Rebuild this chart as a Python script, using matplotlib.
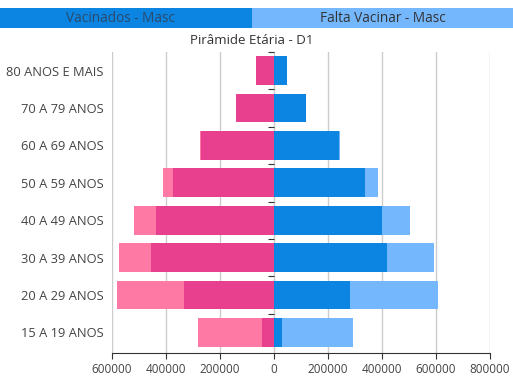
import numpy as np
import matplotlib
matplotlib.use("Agg")
import matplotlib.pyplot as plt
from matplotlib.ticker import FuncFormatter

# ------------------ Data ------------------

faixas = ["80 ANOS E MAIS", "70 A 79 ANOS", "60 A 69 ANOS", "50 A 59 ANOS",
          "40 A 49 ANOS", "30 A 39 ANOS", "20 A 29 ANOS", "15 A 19 ANOS"]

# lado esquerdo (rosa)
vac_esq = [65500, 139600, 270000, 374000, 437000, 456700, 333000, 43000]
falta_esq = [0, 0, 5000, 36000, 80000, 117300, 247000, 239600]

# lado direito (azul) - Masc
vac_masc = [47000, 118500, 240000, 337000, 400000, 418500, 281500, 31000]
falta_masc = [0, 0, 4000, 48000, 105000, 174100, 327100, 261600]

xticks = [-600000, -400000, -200000, 0, 200000, 400000, 600000, 800000]

# ------------------ Styles ------------------

c_blue = "#0b84e2"
c_lblue = "#74b7fd"
c_pink = "#e8408f"
c_lpink = "#ff79a5"
txt_color = "#444444"

plt.rcParams['font.family'] = ['Open Sans', 'DejaVu Sans']

fig = plt.figure(figsize=(5.13, 3.84), dpi=100)
ax = fig.add_axes([112 / 513, 1 - 353 / 384, 378 / 513, 301 / 384])

y = np.arange(len(faixas))
h = 0.77
ve = np.array(vac_esq)
vm = np.array(vac_masc)

ax.barh(y, -ve, height=h, color=c_pink, zorder=3)
ax.barh(y, -np.array(falta_esq), left=-ve, height=h, color=c_lpink, zorder=3)
ax.barh(y, vm, height=h, color=c_blue, zorder=3)
ax.barh(y, falta_masc, left=vm, height=h, color=c_lblue, zorder=3)

ax.set_xlim(-600000, 800000)
ax.set_ylim(len(faixas) - 0.5 + 0.05, -0.5)
ax.set_yticks(y)
ax.set_yticklabels(faixas, fontsize=9.3, color=txt_color)
ax.tick_params(axis='y', length=0, pad=6)

ax.set_xticks(xticks)
ax.xaxis.set_major_formatter(FuncFormatter(lambda v, p: "{:d}".format(int(abs(v)))))
ax.tick_params(axis='x', labelsize=8.5, labelcolor=txt_color, length=4,
               color="#333333", pad=3)
ax.grid(axis='x', color="#cccccc", linewidth=1, zorder=0)

for s in ["top", "right", "left"]:
    ax.spines[s].set_visible(False)
ax.spines["bottom"].set_color("#333333")

# pequenos ticks no zero entre as faixas
ax2 = ax.twinx()
ax2.set_ylim(ax.get_ylim())
ax2.spines["right"].set_position(("data", 0))
for s in ["top", "right", "left", "bottom"]:
    ax2.spines[s].set_visible(False)
ax2.set_yticks(y - 0.5)
ax2.set_yticklabels([])
ax2.tick_params(axis='y', direction='in', length=4, color="#333333")

fig.text(252 / 513, 1 - 40 / 384, "Pirâmide Etária - D1", ha="center",
         va="center", fontsize=9.6, color="#333333")

# legenda em faixa colorida
leg = fig.add_axes([0, 1 - 28 / 384, 1, 20 / 384])
leg.set_xlim(0, 513)
leg.set_ylim(0, 1)
leg.axis("off")
leg.barh(0.5, 252, height=1, color=c_blue)
leg.barh(0.5, 513 - 252, left=252, height=1, color=c_lblue)
leg.text(120, 0.5, "Vacinados - Masc", ha="center", va="center",
         fontsize=9.8, color="#2b4a6a")
leg.text(383, 0.5, "Falta Vacinar - Masc", ha="center", va="center",
         fontsize=9.8, color="#333333")

fig.savefig("out.png", dpi=100, facecolor="white")
